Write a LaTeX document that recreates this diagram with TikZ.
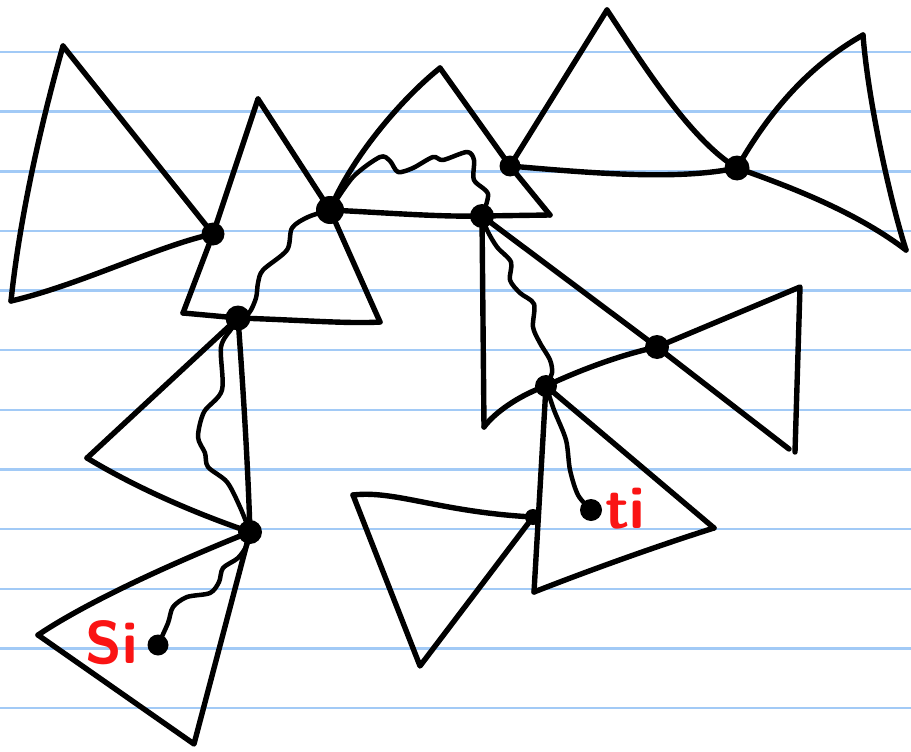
\documentclass[tikz,border=0pt]{standalone}
\usetikzlibrary{calc}
\definecolor{rulecol}{RGB}{162,202,246}
\definecolor{labelred}{RGB}{250,20,20}
\begin{document}
\begin{tikzpicture}[x=1pt,y=-1pt,
  edge/.style={line width=5.4pt, line cap=round, line join=round},
  wave/.style={line width=4.5pt, line cap=round, line join=round},
  rule/.style={rulecol, line width=2.4pt},
  dot/.style={circle, fill=black, inner sep=0pt, minimum size=#1},
  dot/.default=22pt,
  lbl/.style={text=labelred, font=\sffamily\bfseries\fontsize{60}{64}\selectfont, inner sep=0pt}]
\useasboundingbox (0,0) rectangle (911,752);
\fill[white] (0,0) rectangle (911,752);
\foreach \k in {0,...,11} \draw[rule] (0,{52+59.65*\k}) -- (911,{52+59.65*\k});

% corner points
\coordinate (a1) at (63,46);  \coordinate (b1) at (11,301);
\coordinate (a2) at (258,99); \coordinate (b2) at (183,313); \coordinate (c2) at (380,322);
\coordinate (a3) at (440,68); \coordinate (c3) at (550,215);
\coordinate (a4) at (607,10);
\coordinate (a5) at (863,35); \coordinate (b5) at (906,250);
\coordinate (b6) at (484,427);
\coordinate (a7) at (800,287); \coordinate (b7) at (795,452); \coordinate (c7) at (789,449);
\coordinate (b8) at (534,592); \coordinate (c8) at (714,528);
\coordinate (a9) at (353,495); \coordinate (b9) at (420,666);
\coordinate (a10) at (87,458);
\coordinate (a11) at (38,635); \coordinate (b11) at (194,744);

% junction positions
\coordinate (p1) at (213,234);
\coordinate (p2) at (238,318);
\coordinate (p3) at (330,210);
\coordinate (p4) at (482,216);
\coordinate (p5) at (510,166);
\coordinate (p6) at (737,168);
\coordinate (p7) at (657,347);
\coordinate (p8) at (546,386);
\coordinate (p9) at (250,532);
\coordinate (p10) at (533,517);
\coordinate (ps) at (158,645);
\coordinate (pt) at (591,510);

% triangle 1
\draw[edge] (a1) .. controls (42,120) and (20,215) .. (b1);
\draw[edge] (b1) .. controls (80,285) and (160,245) .. (p1);
\draw[edge] (a1) -- (p1);
% triangle 2
\draw[edge] (a2) -- (p1) -- (b2);
\draw[edge] (b2) -- (p2) .. controls (300,320) and (350,324) .. (c2);
\draw[edge] (a2) -- (p3) -- (c2);
% triangle 3
\draw[edge] (p3) .. controls (350,160) and (400,100) .. (a3);
\draw[edge] (a3) -- (p5) -- (c3);
\draw[edge] (p3) .. controls (390,213) and (440,217) .. (p4) -- (c3);
% triangle 4
\draw[edge] (p5) -- (a4);
\draw[edge] (a4) .. controls (640,60) and (690,140) .. (p6);
\draw[edge] (p5) .. controls (600,174) and (680,180) .. (p6);
% triangle 5
\draw[edge] (p6) .. controls (770,110) and (810,65) .. (a5);
\draw[edge] (a5) .. controls (868,100) and (890,200) .. (b5);
\draw[edge] (p6) .. controls (800,190) and (860,215) .. (b5);
% triangle 6
\draw[edge] (p4) -- (b6);
\draw[edge] (b6) .. controls (495,412) and (520,395) .. (p8) .. controls (580,370) and (620,355) .. (p7);
\draw[edge] (p4) -- (p7);
% triangle 7
\draw[edge] (p7) -- (a7) -- (b7);
\draw[edge] (p7) -- (c7);
% triangle 8
\draw[edge] (p8) -- (b8);
\draw[edge] (p8) -- (c8);
\draw[edge] (b8) .. controls (590,570) and (660,545) .. (c8);
% triangle 9
\draw[edge] (a9) .. controls (395,490) and (440,512) .. (p10);
\draw[edge] (a9) -- (b9) -- (p10);
% triangle 10
\draw[edge] (p2) -- (a10);
\draw[edge] (a10) .. controls (140,490) and (200,515) .. (p9);
\draw[edge] (p2) .. controls (244,400) and (248,470) .. (p9);
% triangle 11
\draw[edge] (p9) .. controls (180,560) and (90,600) .. (a11);
\draw[edge] (a11) -- (b11) -- (p9);

% wavy paths
\draw[wave] plot[smooth] coordinates {(p3) (308,217) (292,228) (287,250) (263,270) (258,283) (256,298) (249,313) (p2)};
\draw[wave] plot[smooth] coordinates {(p3) (353,177) (380,157) (390,161) (398,172) (413,168) (433,157) (443,160) (467,152) (474,160) (474,180) (488,194) (p4)};
\draw[wave] plot[smooth] coordinates {(p4) (487,230) (497,247) (511,262) (510,280) (520,293) (534,304) (533,327) (540,343) (550,360) (552,373) (p8)};
\draw[wave] plot[smooth] coordinates {(p2) (232,328) (221,347) (222,390) (204,412) (198,437) (205,453) (208,467) (227,482) (240,507) (p9)};
\draw[wave] plot[smooth] coordinates {(p9) (247,545) (238,558) (223,568) (219,582) (210,593) (187,597) (173,607) (168,623) (ps)};
\draw[wave] plot[smooth] coordinates {(p8) (554,410) (566,440) (570,470) (578,495) (pt)};

% junction dots
\node[dot=23pt] (n1) at (p1) {};
\node[dot=25pt] (n2) at (p2) {};
\node[dot=28pt] (n3) at (p3) {};
\node[dot=24pt] (n4) at (p4) {};
\node[dot=21pt] (n5) at (p5) {};
\node[dot=25pt] (n6) at (p6) {};
\node[dot=24pt] (n7) at (p7) {};
\node[dot=22pt] (n8) at (p8) {};
\node[dot=24pt] (n9) at (p9) {};
\node[dot=16pt] (n10) at (p10) {};
\node[dot=21pt] (s) at (ps) {};
\node[dot=22pt] (t) at (pt) {};

% labels
\node[lbl] (si) at (112,643) {Si};
\node[lbl] (tl) at (625,509) {ti};
\end{tikzpicture}
\end{document}
